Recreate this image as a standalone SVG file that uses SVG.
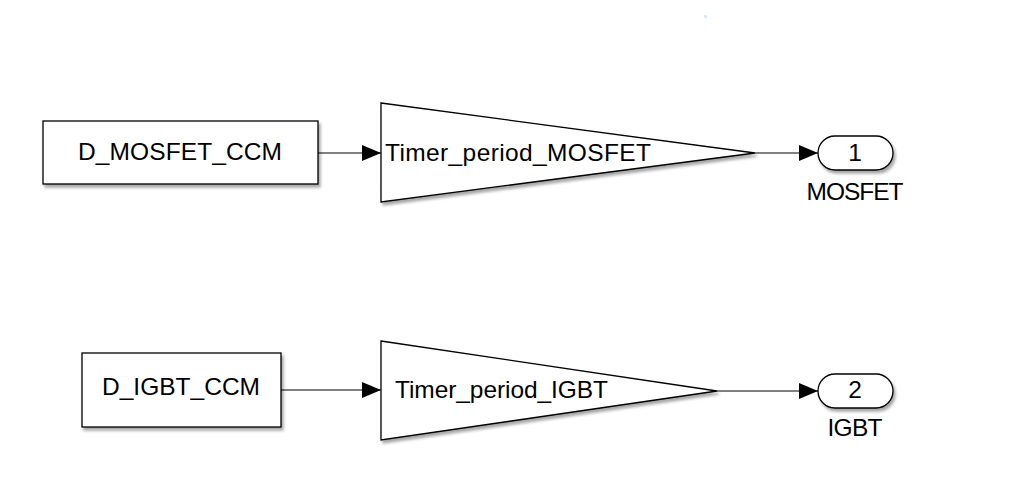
<svg xmlns="http://www.w3.org/2000/svg" width="1015" height="501" viewBox="0 0 1015 501">
<style>
.blk{fill:#fff;stroke:#000;stroke-width:1.3}
.txt{font-family:"Liberation Sans",Arial,sans-serif;font-size:24.5px;fill:#000}
.wire{stroke:#000;stroke-width:1;fill:none}
</style>
<defs>
<filter id="sh" x="-10%" y="-10%" width="130%" height="140%">
<feGaussianBlur in="SourceAlpha" stdDeviation="1.5"/>
<feOffset dx="2" dy="3" result="b"/>
<feComponentTransfer><feFuncA type="linear" slope="0.35"/></feComponentTransfer>
<feMerge><feMergeNode/><feMergeNode in="SourceGraphic"/></feMerge>
</filter>
<marker id="ar" markerWidth="20" markerHeight="16" refX="19" refY="8" orient="auto" markerUnits="userSpaceOnUse">
<path d="M0,0 L19,8 L0,16 Z" fill="#000"/>
</marker>
</defs>
<rect width="1015" height="501" fill="#fff"/>
<rect x="704" y="15" width="3" height="3" fill="#d6ebff"/>
<g id="connectors">
<line class="wire" x1="318" y1="153" x2="381" y2="153" marker-end="url(#ar)"/>
<line class="wire" x1="755" y1="153" x2="818" y2="153" marker-end="url(#ar)"/>
<line class="wire" x1="281" y1="390" x2="381" y2="390" marker-end="url(#ar)"/>
<line class="wire" x1="717" y1="391" x2="818" y2="391" marker-end="url(#ar)"/>
</g>
<g id="D_MOSFET_CCM">
<rect class="blk" x="43" y="121" width="275" height="63" filter="url(#sh)"/>
<text class="txt" x="180" y="160" text-anchor="middle" textLength="204">D_MOSFET_CCM</text>
</g>
<g id="Timer_period_MOSFET">
<path class="blk" d="M381,103 L755,153 L381,202 Z" filter="url(#sh)"/>
<text class="txt" x="385" y="161" textLength="266">Timer_period_MOSFET</text>
</g>
<g id="MOSFET">
<rect class="blk" x="818" y="136" width="75" height="34" rx="17" ry="17" filter="url(#sh)"/>
<text class="txt" x="855" y="161" text-anchor="middle">1</text>
<text class="txt" x="855" y="200" text-anchor="middle" textLength="97">MOSFET</text>
</g>
<g id="D_IGBT_CCM">
<rect class="blk" x="82" y="353" width="199" height="74" filter="url(#sh)"/>
<text class="txt" x="181" y="395" text-anchor="middle" textLength="158">D_IGBT_CCM</text>
</g>
<g id="Timer_period_IGBT">
<path class="blk" d="M381,341 L717,391 L381,440 Z" filter="url(#sh)"/>
<text class="txt" x="395" y="398" textLength="213">Timer_period_IGBT</text>
</g>
<g id="IGBT">
<rect class="blk" x="818" y="374" width="75" height="34" rx="17" ry="17" filter="url(#sh)"/>
<text class="txt" x="855" y="398" text-anchor="middle">2</text>
<text class="txt" x="855" y="436" text-anchor="middle" textLength="55">IGBT</text>
</g>
</svg>
